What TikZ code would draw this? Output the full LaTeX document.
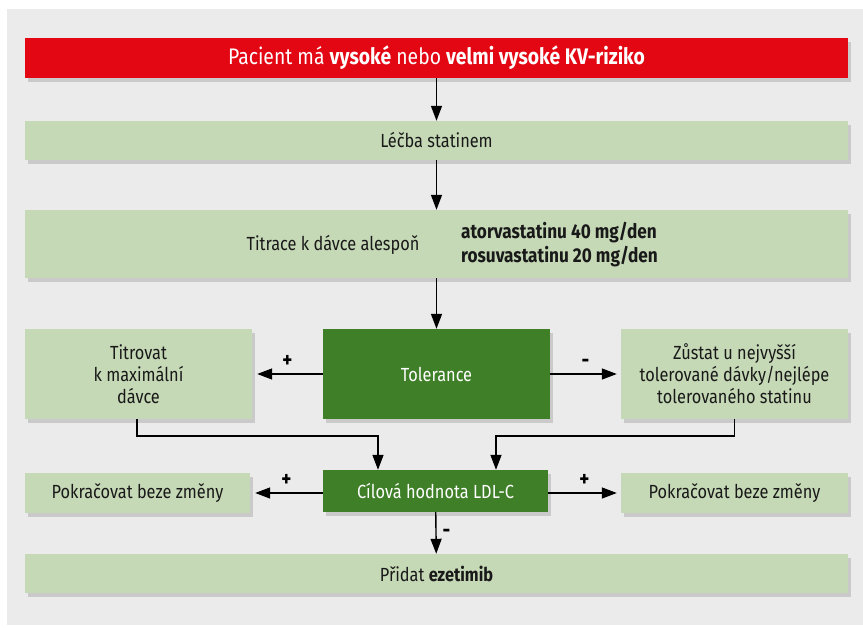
\documentclass[tikz,border=0pt]{standalone}
\usepackage{fontspec}
\setmainfont{Fira Sans}[FakeStretch=0.86]
\usetikzlibrary{arrows.meta,shadows}

\definecolor{kvred}{HTML}{E30613}
\definecolor{lightgreen}{HTML}{C6D9B6}
\definecolor{darkgreen}{HTML}{3E7F27}
\definecolor{panelgray}{HTML}{EBEBEB}

\tikzset{
  label text/.style={inner sep=0pt, align=center, text=black!90,
    font=\fontsize{19}{22}\selectfont},
  box/.style={label text, fill=lightgreen,
    drop shadow={shadow xshift=3pt, shadow yshift=-4pt, opacity=0.3}},
  widebox/.style={box, minimum width=823pt, minimum height=39pt},
  sidebox/.style={box, minimum width=227pt},
  darkbox/.style={box, fill=darkgreen, text=white},
  flow/.style={line width=1.4pt, -{Triangle[length=15pt,width=11pt]}},
  sign/.style={font=\fontsize{22}{22}\selectfont\bfseries, inner sep=1pt}
}

\begin{document}
\begin{tikzpicture}[x=1pt,y=-1pt]
  % Page and panel
  \useasboundingbox (0,0) rectangle (863,628);
  \fill[panelgray] (7,9) rectangle (863,625);

  % Column centres
  \def\mid{436.5}
  \def\lft{138.5}
  \def\rgt{734.5}

  % Top row
  \node[widebox, fill=kvred, text=white, minimum height=40pt,
        font=\fontsize{22.5}{26}\selectfont] (risk) at (\mid,58)
        {Pacient má \textbf{vysoké} nebo \textbf{velmi vysoké KV-riziko}};
  \node[widebox] (statin) at (\mid,140.5) {Léčba statinem};
  \node[widebox, minimum height=68pt] (titrace) at (\mid,244) {};
  \node[label text] (titrtxt) at (333,245) {Titrace k dávce alespoň};
  \node[label text, anchor=west, align=left, font=\fontsize{20}{24}\selectfont\bfseries] (dose) at (461,245)
        {atorvastatinu 40 mg/den\\rosuvastatinu 20 mg/den};

  % Tolerance row
  \node[darkbox, minimum width=227pt, minimum height=90pt] (tol) at (\mid,374) {Tolerance};
  \node[sidebox, minimum height=90pt] (titr) at (\lft,374) {Titrovat\\k maximální\\dávce};
  \node[sidebox, minimum height=90pt] (stay) at (\rgt,374)
        {Zůstat u nejvyšší\\tolerované dávky/nejlépe\\tolerovaného statinu};

  % Target row
  \node[darkbox, minimum width=225pt, minimum height=42pt] (ldl) at (435.5,491) {Cílová hodnota LDL-C};
  \node[sidebox, minimum width=225pt, minimum height=40pt] (keepl) at (137.5,493) {Pokračovat beze změny};
  \node[sidebox, minimum height=40pt] (keepr) at (\rgt,493) {Pokračovat beze změny};
  \node[widebox] (add) at (\mid,573.5) {Přidat \textbf{ezetimib}};

  % Arrows down the middle
  \draw[flow] (risk) -- (statin);
  \draw[flow] (statin) -- (titrace);
  \draw[flow] (titrace) -- (tol);
  \draw[flow] (ldl) -- node[sign, right=5pt, pos=0.5] {-} (add);

  % Sideways arrows
  \draw[flow, shorten >=5pt] (tol) -- node[sign, above=5pt] {+} (titr);
  \draw[flow, shorten >=4pt] (tol) -- node[sign, above=5pt] {-} (stay);
  \draw[flow, shorten >=5pt] (ldl.west |- keepl) -- node[sign, above=5pt] {+} (keepl);
  \draw[flow, shorten >=4pt] (ldl.east |- keepr) -- node[sign, above=5pt] {+} (keepr);

  % Merge lines into the target
  \draw[flow] ([xshift=-1.5pt]titr.south) -- ++(0,17) -| ([xshift=-57.5pt]ldl.north);
  \draw[flow] (stay.south) -- ++(0,17) -| ([xshift=60.5pt]ldl.north);
\end{tikzpicture}
\end{document}
